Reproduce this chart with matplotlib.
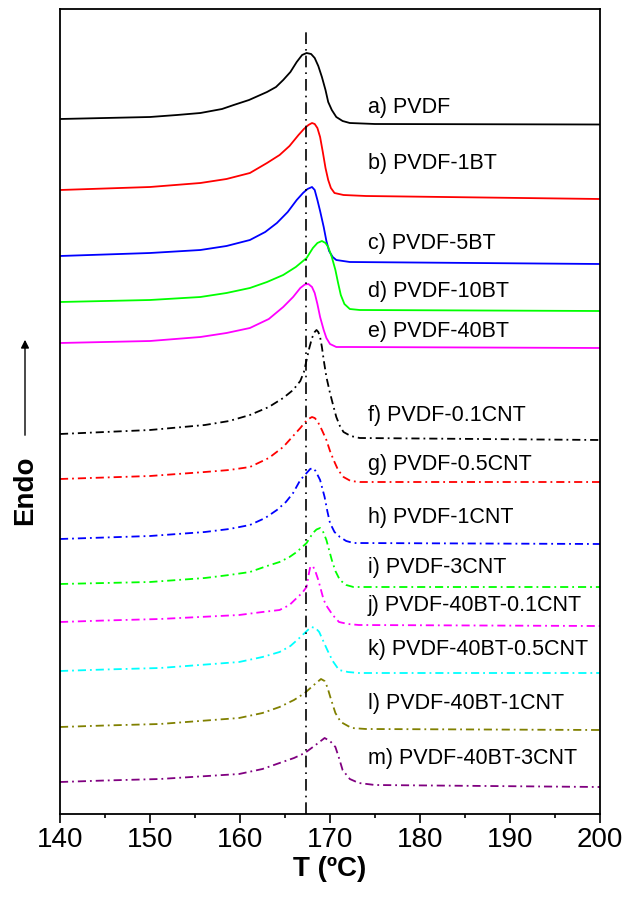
import matplotlib
matplotlib.use("Agg")
import matplotlib.pyplot as plt

plt.rcParams['font.family'] = ['Liberation Sans', 'DejaVu Sans']

# DSC melting curves, heat flow in arbitrary units (curves stacked)
t_a = [140, 145, 150, 153, 155.6, 158, 159.3, 161, 163, 164, 164.8, 165.6, 166.3, 166.9, 167.4, 167.9,
       168.3, 168.7, 169.1, 169.5, 169.8, 170.2, 170.7, 171.4, 172.2, 175, 200]
h_a = [695, 696, 697, 699, 701, 705, 709, 714, 722, 727, 734, 742, 752, 759, 761, 760,
       756, 748, 737, 724, 712, 704, 697, 693, 691, 690, 689.5]

t_b = [140, 145, 150, 155.6, 158.5, 161.1, 163, 164.4, 165.5, 166.5, 167.1, 167.6, 168.0, 168.3,
       168.6, 168.9, 169.2, 169.5, 169.8, 170.1, 170.5, 171.5, 174, 200]
h_b = [624, 625.5, 627, 631, 635, 641, 651, 659, 668, 679, 685, 689, 691, 690,
       686, 677, 662, 646, 634, 626, 621, 619, 618, 615]

t_c = [140, 145, 150, 155.6, 158.5, 161.1, 162.8, 164.1, 165.3, 166.3, 167, 167.5, 168.0, 168.3,
       168.6, 168.9, 169.3, 169.6, 169.9, 170.3, 170.7, 172.2, 200]
h_c = [558, 559.5, 561, 564, 568, 574, 582, 591, 602, 614, 621, 625, 627, 624,
       614, 603, 587, 573, 563, 557, 554, 552, 550]

t_d = [140, 145, 150, 155.6, 158.5, 161.1, 163, 164.8, 166.2, 167.4, 168.1, 168.6, 169.1, 169.5,
       169.8, 170.2, 170.6, 170.9, 171.2, 171.6, 172.2, 173.3, 200]
h_d = [512, 513, 514, 517, 521, 526, 532, 539, 547, 556, 566, 571, 573, 571,
       567, 557, 544, 531, 519, 510, 505, 504, 503]

t_e = [140, 145, 150, 155.6, 158.5, 161.1, 163.2, 164.8, 165.9, 166.7, 167.2, 167.6, 168.0, 168.3,
       168.6, 168.9, 169.3, 169.6, 170.0, 170.7, 172.2, 200]
h_e = [471, 472, 473, 477, 481, 486, 495, 507, 517, 526, 529.5, 530, 527, 521,
       510, 497, 484, 476, 470, 467, 467, 466]

t_f = [140, 145, 150, 156.1, 158.8, 161.1, 163.2, 164.8, 165.9, 166.7, 167.1, 167.4, 167.7, 168.0,
       168.3, 168.5, 168.7, 168.9, 169.1, 169.3, 169.6, 170.0, 170.4, 170.7, 171.1, 171.5, 172.3,
       173.3, 200]
h_f = [380, 382, 384, 389, 393, 399, 407, 416, 424, 433, 442, 454, 466, 476,
       482, 484, 482, 477, 467, 454, 437, 421, 407, 397, 388, 382, 378,
       376, 374]

t_g = [140, 145, 150, 156.1, 158.8, 161.1, 163.2, 164.8, 166.0, 166.7, 167.2, 167.6, 168.0, 168.3,
       168.6, 169.1, 169.6, 170.0, 170.4, 170.9, 171.5, 172.3, 173.3, 200]
h_g = [335, 336.5, 338, 342, 344, 347, 356, 367, 379, 386, 391.5, 395, 397, 396,
       393, 384, 374, 363, 354, 344, 337, 333, 332, 332]

t_h = [140, 145, 150, 156.1, 158.8, 161.1, 162.8, 164.1, 165.1, 165.9, 166.7, 167.4, 167.8, 168.1,
       168.4, 168.9, 169.4, 169.7, 170.0, 170.5, 171.1, 171.8, 172.6, 200]
h_h = [275, 276.5, 278, 282, 285, 289, 296, 304, 312, 321, 334, 341, 345, 346,
       343, 334, 317, 303, 291, 282, 277, 273, 271, 270]

t_i = [140, 145, 150, 156.1, 158.8, 161.1, 163, 164.4, 165.5, 166.3, 167.4, 168.1, 168.5, 168.9,
       169.2, 169.6, 169.9, 170.2, 170.6, 171.1, 171.8, 172.6, 200]
h_i = [230, 231, 232, 236, 239, 242, 248, 252, 257, 262, 271, 281, 284.5, 286,
       283, 274, 264, 254, 243, 234, 229, 227, 227]

t_j = [140, 145, 151.1, 155.5, 159.9, 162.5, 164.4, 165.5, 166.3, 166.9, 167.4, 167.6, 167.8, 168.1,
       168.4, 168.7, 169.0, 169.3, 169.7, 170.3, 171.0, 172, 173.2, 200]
h_j = [192, 193.5, 195, 197, 199, 202, 204, 209, 216, 221, 227, 238, 247, 248,
       242, 234, 224, 214, 207, 199, 192, 190, 189, 188]

t_k = [140, 145, 151.1, 155.5, 159.9, 162.5, 164.4, 165.6, 166.6, 167.3, 167.9, 168.4, 168.8, 169.2,
       169.7, 170.3, 171.0, 172, 173.2, 200]
h_k = [143, 144.5, 146, 149, 152, 157, 162, 168, 176, 182, 187, 186, 182, 174,
       164, 153, 144, 142, 141, 141]

t_l = [140, 145, 151.1, 155.5, 159.9, 162.5, 164.4, 166, 167.2, 168.2, 169.0, 169.4, 169.7, 170.1,
       170.6, 171.2, 172.4, 174, 200]
h_l = [87, 88.5, 90, 93, 96, 101, 107, 114, 121, 129, 135, 133, 127, 115,
       101, 92, 86, 85, 84]

t_m = [140, 145, 151.1, 155.5, 159.9, 162.5, 164.4, 166, 167.2, 168.4, 169.4, 170.0, 170.6, 171.0,
       171.4, 172.2, 173.2, 175, 200]
h_m = [32, 33.5, 35, 37.5, 40, 45, 51, 56, 61, 69, 76, 73, 67, 56,
       44, 35, 31, 29, 27]

labels = ["a) PVDF", "b) PVDF-1BT", "c) PVDF-5BT", "d) PVDF-10BT", "e) PVDF-40BT",
          "f) PVDF-0.1CNT", "g) PVDF-0.5CNT", "h) PVDF-1CNT", "i) PVDF-3CNT",
          "j) PVDF-40BT-0.1CNT", "k) PVDF-40BT-0.5CNT", "l) PVDF-40BT-1CNT",
          "m) PVDF-40BT-3CNT"]
label_y = [706, 650, 571, 522, 483, 399, 350, 296, 246, 208, 165, 111, 56]

tm_ref = 167.3

curves = [(t_a, h_a), (t_b, h_b), (t_c, h_c), (t_d, h_d), (t_e, h_e),
          (t_f, h_f), (t_g, h_g), (t_h, h_h), (t_i, h_i),
          (t_j, h_j), (t_k, h_k), (t_l, h_l), (t_m, h_m)]
colors = ['black', '#ff0000', '#0000ff', '#00ff00', '#ff00ff',
          'black', '#ff0000', '#0000ff', '#00ff00', '#ff00ff',
          '#00ffff', '#808000', '#800080']
dashdot = (0, (4.5, 2.2, 1.0, 2.2))

fig = plt.figure(figsize=(6.25, 8.97), dpi=100)
ax = fig.add_axes([60 / 625, 1 - 814 / 897, 540 / 625, 805 / 897])

for i, ((t, h), c) in enumerate(zip(curves, colors)):
    ls = '-' if i < 5 else dashdot
    ax.plot(t, h, color=c, lw=1.3, linestyle=ls)
    ax.text(174.2, label_y[i], labels[i], fontsize=15.5, va='center', ha='left')

ax.plot([tm_ref, tm_ref], [0, 782], color='black', lw=1.2, linestyle=(0, (7, 3, 1, 3)))

ax.set_xlim(140, 200)
ax.set_ylim(0, 805)
ax.set_xticks(range(140, 201, 10))
ax.set_xticks(range(145, 200, 10), minor=True)
ax.set_yticks([])
ax.tick_params(axis='x', which='major', direction='out', length=6.5, width=1.2,
               labelsize=20, pad=3)
ax.tick_params(axis='x', which='minor', direction='out', length=3, width=1.2)
for s in ax.spines.values():
    s.set_linewidth(1.3)

ax.set_xlabel("T (ºC)", fontsize=20, fontweight='bold', labelpad=2)

fig.text(25 / 625, 1 - 490 / 897, "Endo", rotation=90, fontsize=20,
         fontweight='bold', ha='center', va='center')
fig.patches.append(matplotlib.patches.FancyArrowPatch(
    (25 / 625, 1 - 438 / 897), (25 / 625, 1 - 337 / 897),
    transform=fig.transFigure, arrowstyle='-|>', mutation_scale=12,
    color='black', lw=1.0))

fig.savefig("out.png", dpi=100)
